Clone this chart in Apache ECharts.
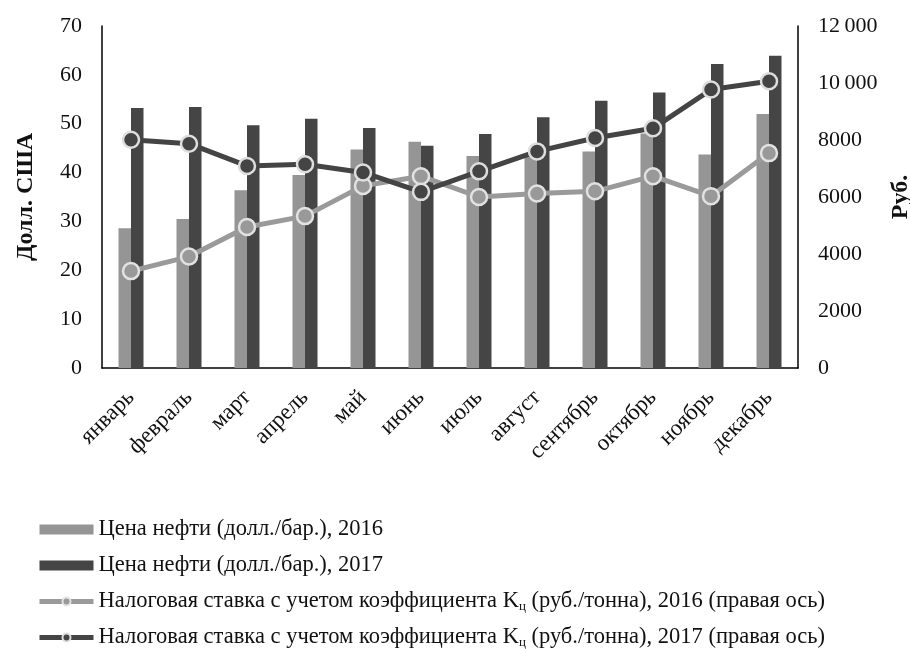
<!DOCTYPE html>
<html>
<head>
<meta charset="utf-8">
<script src="https://cdn.jsdelivr.net/npm/echarts@6/dist/echarts.min.js"></script>
<style>
html,body{margin:0;padding:0;background:#fff;}
#chart{width:910px;height:649px;}
</style>
</head>
<body>
<div id="chart"></div>
<script>
var months = ['январь','февраль','март','апрель','май','июнь','июль','август','сентябрь','октябрь','ноябрь','декабрь'];
var oil2016 = [28.6, 30.5, 36.4, 39.5, 44.7, 46.3, 43.4, 43.5, 44.3, 48.0, 43.7, 52.0];
var oil2017 = [53.2, 53.4, 49.7, 51.0, 49.1, 45.5, 47.9, 51.3, 54.7, 56.4, 62.2, 63.9];
var tax2016 = [3400, 3910, 4950, 5330, 6390, 6730, 6000, 6120, 6200, 6730, 6030, 7540];
var tax2017 = [8010, 7870, 7090, 7150, 6860, 6180, 6900, 7600, 8070, 8410, 9770, 10060];
var leftTicks = [0, 70, 10];
var rightTicks = [0, 12000, 2000];

var names = [
  'Цена нефти (долл./бар.), 2016',
  'Цена нефти (долл./бар.), 2017',
  'Налоговая ставка с учетом коэффициента Kц (руб./тонна), 2016 (правая ось)',
  'Налоговая ставка с учетом коэффициента Kц (руб./тонна), 2017 (правая ось)'
];

var FONT = '"Liberation Serif", "Times New Roman", serif';
var chart = echarts.init(document.getElementById('chart'));
chart.setOption({
  backgroundColor: '#ffffff',
  animation: false,
  textStyle: {fontFamily: FONT},
  grid: {left: 102, right: 112, top: 26, bottom: 281, containLabel: false, outerBoundsMode: 'none'},
  legend: {
    orient: 'vertical',
    left: 37,
    top: 518,
    height: 131,
    padding: 0,
    itemGap: 13,
    itemWidth: 54,
    itemHeight: 10,
    data: [
      {name: names[0], icon: 'rect', itemStyle: {color: '#959595'}},
      {name: names[1], icon: 'rect', itemStyle: {color: '#454545'}},
      {name: names[2], lineStyle: {width: 5, color: '#9a9a9a'}},
      {name: names[3], lineStyle: {width: 5, color: '#444444'}}
    ],
    textStyle: {
      fontFamily: FONT, fontSize: 22.5, color: '#111',
      rich: {
        t: {fontFamily: FONT, fontSize: 22.5, color: '#111'},
        s: {fontFamily: FONT, fontSize: 13, color: '#111', verticalAlign: 'bottom', padding: [9, 0, 0, 0]}
      }
    },
    formatter: function (n) {
      var idx = n.indexOf('Kц');
      if (idx < 0) return n;
      return '{t|' + n.slice(0, idx) + 'K}{s|ц}{t|' + n.slice(idx + 2) + '}';
    }
  },
  xAxis: {
    type: 'category',
    data: months,
    axisLine: {show: true, lineStyle: {color: '#000', width: 1.5}},
    axisTick: {show: false},
    axisLabel: {rotate: 45, fontSize: 23, color: '#111', margin: 26, fontFamily: FONT}
  },
  yAxis: [
    {
      type: 'value', min: leftTicks[0], max: leftTicks[1], interval: leftTicks[2],
      name: 'Долл. США', nameLocation: 'middle', nameGap: 64, nameRotate: 90,
      nameTextStyle: {fontSize: 24, fontWeight: 'bold', color: '#111', fontFamily: FONT},
      axisLine: {show: true, lineStyle: {color: '#000', width: 1.5}},
      axisTick: {show: false},
      splitLine: {show: false},
      axisLabel: {fontSize: 22, color: '#111', margin: 20, fontFamily: FONT}
    },
    {
      type: 'value', min: rightTicks[0], max: rightTicks[1], interval: rightTicks[2],
      name: 'Руб.', nameLocation: 'middle', nameGap: 90, nameRotate: 90,
      nameTextStyle: {fontSize: 24, fontWeight: 'bold', color: '#111', fontFamily: FONT},
      axisLine: {show: true, lineStyle: {color: '#000', width: 1.5}},
      axisTick: {show: false},
      splitLine: {show: false},
      axisLabel: {
        fontSize: 22, color: '#111', margin: 20, fontFamily: FONT,
        formatter: function (v) {
          if (v >= 10000) {
            var s = String(v);
            return s.slice(0, s.length - 3) + '\u2009' + s.slice(-3);
          }
          return String(v);
        }
      }
    }
  ],
  series: [
    {
      name: names[0], type: 'bar', yAxisIndex: 0, data: oil2016,
      barWidth: 12.5, barGap: '0%',
      itemStyle: {color: '#959595'}
    },
    {
      name: names[1], type: 'bar', yAxisIndex: 0, data: oil2017,
      barWidth: 12.5, barGap: '0%',
      itemStyle: {color: '#454545'}
    },
    {
      name: names[2], type: 'line', yAxisIndex: 1, data: tax2016,
      symbol: 'circle', symbolSize: 16,
      lineStyle: {color: '#9a9a9a', width: 5},
      itemStyle: {color: '#999999', borderColor: '#e2e2e2', borderWidth: 2.5},
      z: 5
    },
    {
      name: names[3], type: 'line', yAxisIndex: 1, data: tax2017,
      symbol: 'circle', symbolSize: 16,
      lineStyle: {color: '#444444', width: 5},
      itemStyle: {color: '#444444', borderColor: '#dedede', borderWidth: 2.5},
      z: 6
    }
  ]
});
</script>
</body>
</html>
